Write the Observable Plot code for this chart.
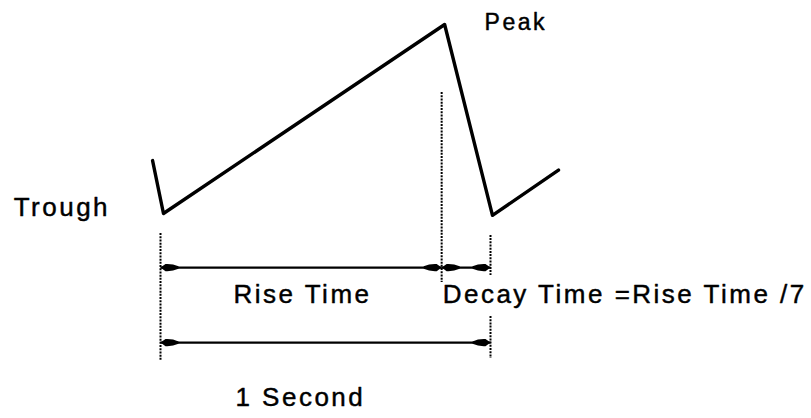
<!DOCTYPE html>
<html><head><meta charset="utf-8">
<script src="https://cdn.jsdelivr.net/npm/d3@7"></script>
<script src="https://cdn.jsdelivr.net/npm/@observablehq/plot@0.6"></script>
<style>
body{margin:0;background:#fff}
#chart svg text{letter-spacing:2.5px}
</style>
</head><body><div id="chart"></div>
<script>
// Waveform: time in seconds (0 = first trough, 1 = next trough); amplitude (0 = trough, 1 = peak)
const waveTime = [-0.024, 0.009, 0.861, 1.006, 1.206];
const waveAmp  = [0.28, 0.0, 1.0, -0.01, 0.23];

// Dotted guide lines (time, amplitude span)
const guideTime   = [0, 0.852, 1, 1];
const guideTop    = [-0.106, 0.64, -0.116, -0.545];
const guideBottom = [-0.778, -0.365, -0.328, -0.767];

// Double-headed span arrows
const spanStart = [0, 0.852, 0];
const spanEnd   = [0.852, 1, 1];
const spanAmp   = [-0.286, -0.286, -0.683];

// Labels
const labelText = ["Peak", "Trough", "Rise Time", "Decay Time =Rise Time /7", "1 Second"];
const labelTime = [0.982, -0.445, 0.221, 0.855, 0.227];
const labelAmp  = [1.01, 0.033, -0.43, -0.43, -0.977];
const labelSize = [23, 26, 26, 26, 26];

const wave = waveTime.map((t, i) => ({t, a: waveAmp[i]}));
const guides = guideTime.map((t, i) => ({t, a1: guideTop[i], a2: guideBottom[i]}));
const spans = spanStart.map((s, i) => ({s, e: spanEnd[i], a: spanAmp[i]}));
const heads = spans.flatMap(d => [{t: d.s, a: d.a, rot: 180}, {t: d.e, a: d.a, rot: 0}]);
const labels = labelText.map((text, i) => ({text, t: labelTime[i], a: labelAmp[i], fs: labelSize[i]}));

// arrowhead: tip at origin pointing right, elongated filled blob
const arrowHead = {
  draw(ctx) {
    ctx.moveTo(0, 0);
    ctx.lineTo(-5, -3.6);
    ctx.quadraticCurveTo(-12, -4, -18, -1.2);
    ctx.lineTo(-18, 1.2);
    ctx.quadraticCurveTo(-12, 4, -5, 3.6);
    ctx.closePath();
  }
};

const font = "'Liberation Sans', Arial, Helvetica, sans-serif";

const chart = Plot.plot({
  width: 811,
  height: 418,
  margin: 0,
  x: {domain: [0, 1], range: [160, 490], axis: null},
  y: {domain: [0, 1], range: [213, 24], axis: null},
  style: {fontFamily: font, background: "white", color: "black"},
  marks: [
    Plot.ruleX(guides, {x: "t", y1: "a1", y2: "a2", stroke: "black", strokeWidth: 2, strokeDasharray: "2,1.2"}),
    Plot.link(spans, {x1: "s", x2: "e", y1: "a", y2: "a", stroke: "black", strokeWidth: 2.2}),
    Plot.dot(heads, {x: "t", y: "a", rotate: "rot", symbol: arrowHead, fill: "black", stroke: "none", r: 4}),
    Plot.line(wave, {x: "t", y: "a", stroke: "black", strokeWidth: 3.4, strokeLinejoin: "round", curve: "linear"}),
    ...labels.map(d => Plot.text([d], {x: "t", y: "a", text: "text", textAnchor: "start", fontSize: d.fs, fill: "black", stroke: "black", strokeWidth: 0.45}))
  ]
});
document.getElementById("chart").append(chart);
</script>
</body></html>
